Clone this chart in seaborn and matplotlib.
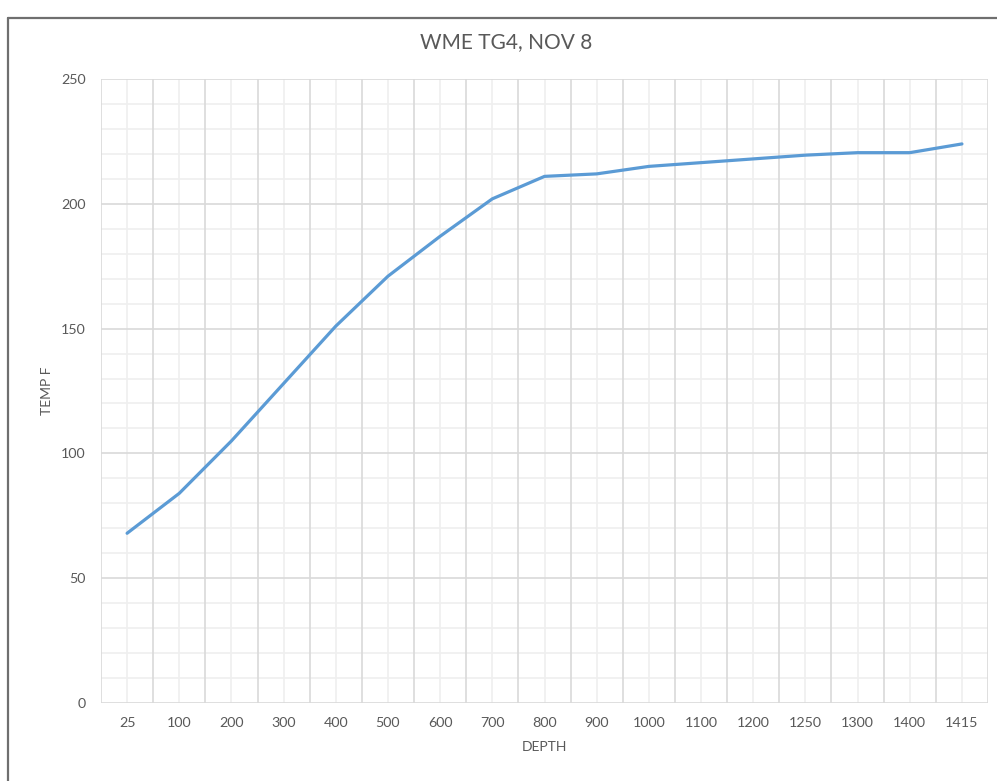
import matplotlib
matplotlib.use("Agg")
import matplotlib.pyplot as plt
import seaborn as sns
import pandas as pd
import numpy as np
from matplotlib.lines import Line2D
from matplotlib.ticker import MultipleLocator, FixedLocator

# Temperature survey readings along the well
depths = ["25", "100", "200", "300", "400", "500", "600", "700", "800",
          "900", "1000", "1100", "1200", "1250", "1300", "1400", "1415"]
temps = [68, 84, 105, 128, 151, 171, 187, 202, 211,
         212, 215, 216.5, 218, 219.5, 220.5, 220.5, 224]

title = "WME TG4, NOV 8"
x_title = "DEPTH"
y_title = "TEMP F"

sns.set_theme(style="white")
plt.rcParams["font.family"] = ["Lato", "DejaVu Sans"]

TEXT = "#595959"
MAJOR = "#d9d9d9"
MINOR = "#efefef"

df = pd.DataFrame({"depth": depths, "temp": temps})

fig = plt.figure(figsize=(9.97, 7.81), dpi=100)
ax = fig.add_axes([0.1013, 0.0999, 0.8897, 0.7989])

sns.lineplot(data=df, x="depth", y="temp", sort=False, ax=ax,
             color="#5B9BD5", linewidth=2.3, zorder=5)

n = len(depths)
ax.set_xlim(-0.5, n - 0.5)
ax.set_ylim(0, 250)

ax.xaxis.set_major_locator(FixedLocator(np.arange(n)))
ax.set_xticks(np.arange(n))
ax.set_xticklabels(depths)
ax.yaxis.set_major_locator(MultipleLocator(50))

# category boundaries as major grid, category centres as minor grid
ax.grid(False)
for v in np.arange(0, 251, 10):
    major = v % 50 == 0
    ax.axhline(v, color=MAJOR if major else MINOR, lw=1.2, zorder=2 if major else 1)
for i in range(n):
    ax.axvline(i, color=MINOR, lw=1.2, zorder=1)
for b in np.arange(n + 1) - 0.5:
    ax.axvline(b, color=MAJOR, lw=1.2, zorder=2)

for s in ax.spines.values():
    s.set_visible(False)

ax.tick_params(axis="both", which="both", length=0, labelsize=10.3, colors=TEXT)
ax.tick_params(axis="y", pad=11)
ax.tick_params(axis="x", pad=10)

ax.set_xlabel(x_title, fontsize=10, color=TEXT, labelpad=9)
ax.set_ylabel(y_title, fontsize=10, color=TEXT)
ax.yaxis.set_label_coords(-0.054, 0.5)

fig.text(0.5075, 1 - 42 / 781, title, ha="center", va="center",
         fontsize=15, color=TEXT)

# chart frame
fig.add_artist(Line2D([8 / 997, 8 / 997], [0, 1 - 18 / 781], transform=fig.transFigure,
                      color="#6f6f6f", lw=1.6))
fig.add_artist(Line2D([8 / 997, 1], [1 - 18 / 781, 1 - 18 / 781], transform=fig.transFigure,
                      color="#6f6f6f", lw=1.6))

fig.savefig("out.png", dpi=100)
